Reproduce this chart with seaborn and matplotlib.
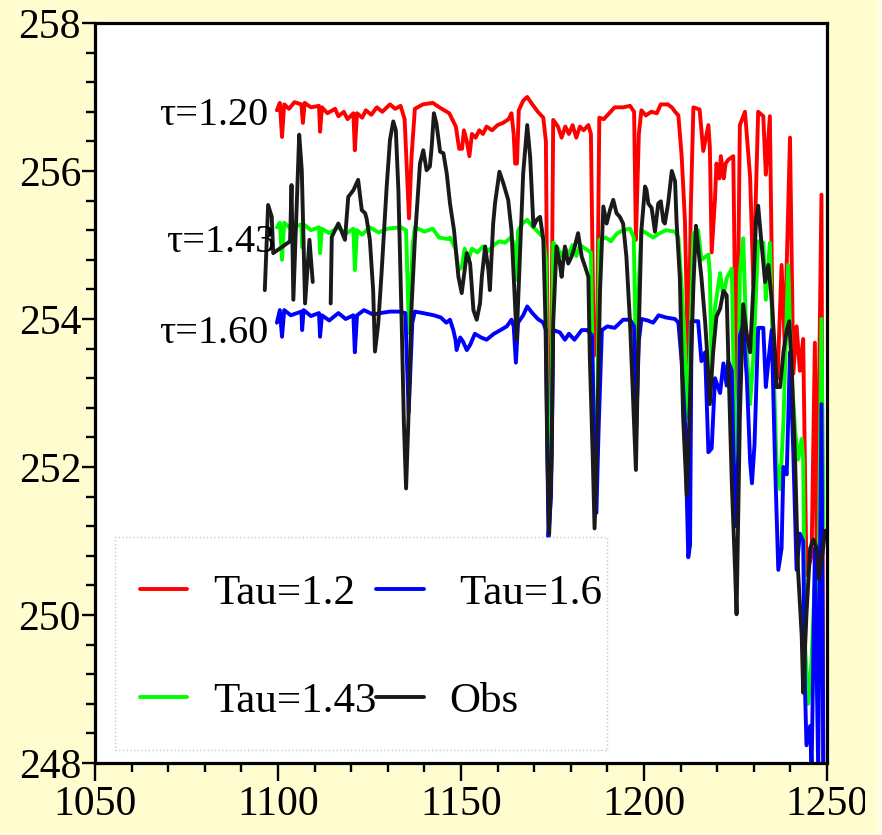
import numpy as np
import pandas as pd
import matplotlib
matplotlib.use("Agg")
import matplotlib.pyplot as plt
from matplotlib.ticker import MultipleLocator
from matplotlib.patches import Rectangle
import seaborn as sns

# ---------------- data ----------------
red_x = [1099.7, 1100.5, 1101.1, 1101.7, 1103.0, 1104.5, 1106.4, 1106.8, 1107.3, 1109.0,
         1111.2, 1111.5, 1112.0, 1113.5, 1115.6, 1116.5, 1118.0, 1119.0, 1120.6, 1121.0,
         1121.6, 1123.0, 1124.0, 1125.5, 1127.0, 1128.5, 1130.6, 1132.0, 1133.5, 1134.6,
         1135.8, 1136.5, 1137.4, 1139.6, 1142.3, 1144.1, 1146.8, 1148.6, 1149.5, 1150.3,
         1150.8, 1151.6, 1152.3, 1153.0, 1154.0, 1155.0, 1156.0, 1157.0, 1158.5, 1160.0,
         1161.5, 1163.0, 1163.8, 1164.4, 1164.8, 1165.3, 1165.8, 1167.0, 1168.1, 1169.5,
         1171.0, 1172.5, 1173.2, 1173.8, 1174.6, 1175.2, 1176.5, 1177.5, 1178.5, 1179.5,
         1180.5, 1181.5, 1182.5, 1183.5, 1184.8, 1185.5, 1186.3, 1187.2, 1187.8, 1189.0,
         1190.5, 1192.0, 1194.3, 1196.2, 1197.3, 1197.8, 1198.6, 1199.3, 1200.5, 1202.0,
         1203.5, 1204.6, 1206.5, 1207.6, 1208.5, 1209.4, 1210.3, 1211.2, 1212.1, 1212.8,
         1213.5, 1215.2, 1216.2, 1217.6, 1218.0, 1218.5, 1219.4, 1219.8, 1220.6, 1221.0,
         1221.8, 1222.3, 1223.0, 1224.4, 1225.3, 1226.2, 1227.6, 1229.0, 1229.9, 1231.2,
         1232.6, 1233.3, 1234.4, 1235.3, 1236.5, 1237.6, 1238.5, 1239.0, 1239.9, 1240.8,
         1241.7, 1242.6, 1243.5, 1244.4, 1245.8, 1246.7, 1247.2, 1248.5, 1249.0]
red_y = [256.82, 256.92, 256.46, 256.90, 256.84, 256.93, 256.90, 256.65, 256.92, 256.86,
         256.88, 256.53, 256.86, 256.78, 256.84, 256.74, 256.80, 256.70, 256.78, 256.28,
         256.78, 256.72, 256.82, 256.76, 256.86, 256.80, 256.90, 256.84, 256.88, 256.70,
         255.36, 256.20, 256.84, 256.90, 256.92, 256.86, 256.78, 256.60, 256.30, 256.30,
         256.55, 256.40, 256.20, 256.50, 256.45, 256.55, 256.50, 256.60, 256.55, 256.62,
         256.65, 256.70, 256.78, 256.50, 256.10, 256.10, 256.82, 256.95, 257.00, 256.90,
         256.80, 256.72, 256.40, 252.70, 252.90, 256.69, 256.60, 256.45, 256.60, 256.50,
         256.62, 256.45, 256.60, 256.55, 256.62, 256.50, 253.50, 253.80, 256.72, 256.70,
         256.78, 256.86, 256.86, 256.88, 256.80, 255.07, 256.50, 256.82, 256.75, 256.80,
         256.78, 256.90, 256.90, 256.86, 256.80, 256.75, 256.20, 255.32, 253.26, 255.50,
         256.86, 256.83, 256.27, 256.62, 256.32, 254.90, 255.62, 256.10, 255.90, 256.20,
         255.90, 256.10, 256.15, 256.20, 252.60, 256.62, 256.80, 255.92, 254.45, 256.80,
         256.74, 255.95, 256.74, 253.30, 253.20, 254.73, 253.60, 254.73, 256.45, 253.26,
         253.90, 253.30, 253.73, 250.54, 250.80, 253.68, 250.60, 255.68, 247.90]

green_x = [1099.7, 1100.5, 1101.1, 1101.7, 1103.5, 1106.4, 1106.6, 1107.0, 1109.0, 1111.2,
           1111.5, 1112.0, 1114.0, 1116.5, 1118.5, 1120.6, 1121.0, 1121.6, 1123.0, 1125.0,
           1127.5, 1130.0, 1133.5, 1135.0, 1135.8, 1136.8, 1137.4, 1140.0,
           1142.3, 1144.0, 1146.5, 1147.0, 1148.5, 1149.3, 1150.2, 1151.0, 1152.0, 1153.0,
           1154.5, 1156.0, 1157.5, 1159.0, 1160.5, 1162.0, 1163.8, 1164.4, 1165.0, 1165.6,
           1167.0, 1168.1, 1169.5, 1171.0, 1172.5, 1173.2, 1173.9, 1174.6, 1175.2, 1176.5,
           1177.5, 1178.5, 1179.5, 1180.5, 1181.5, 1182.5, 1184.0, 1185.5, 1186.3, 1187.2,
           1187.8, 1189.5, 1191.0, 1192.5, 1194.3, 1196.2, 1197.2, 1197.8, 1198.6, 1199.3,
           1201.0, 1202.5, 1204.0, 1206.0, 1208.5, 1209.4, 1210.3, 1211.2, 1211.7, 1212.6,
           1213.5, 1214.8, 1215.7, 1217.6, 1218.0, 1218.5, 1219.4, 1220.8, 1221.7, 1222.6,
           1224.0, 1224.4, 1225.3, 1226.2, 1227.1, 1228.1, 1229.0, 1229.9, 1231.2, 1232.6,
           1233.3, 1234.4, 1235.3, 1236.2, 1237.2, 1238.1, 1239.4, 1240.3, 1241.3, 1242.1,
           1243.1, 1243.5, 1244.0, 1244.9, 1245.8, 1246.7, 1247.6, 1248.5, 1249.0]
green_y = [255.24, 255.30, 254.80, 255.30, 255.22, 255.28, 254.97, 255.28, 255.20, 255.24,
           254.89, 255.22, 255.16, 255.24, 255.15, 255.22, 254.66, 255.20, 255.14, 255.24,
           255.17, 255.22, 255.24, 255.20, 253.81, 255.00, 255.24, 255.18,
           255.22, 255.10, 255.08, 255.10, 254.95, 254.66, 254.70, 254.95, 254.80, 254.95,
           254.90, 254.98, 254.92, 255.00, 255.05, 255.03, 255.11, 255.00, 254.53, 255.20,
           255.30, 255.34, 255.25, 255.18, 255.10, 254.80, 251.60, 252.20, 255.03, 254.95,
           254.85, 254.95, 254.88, 255.00, 254.85, 255.00, 254.95, 254.90, 252.40, 252.50,
           255.07, 255.10, 255.05, 255.15, 255.20, 255.22, 255.10, 253.49, 254.50, 255.20,
           255.15, 255.10, 255.15, 255.20, 255.18, 255.10, 254.45, 253.61, 252.67, 253.55,
           255.15, 255.20, 254.80, 254.87, 254.62, 253.32, 254.15, 254.62, 254.30, 254.55,
           254.68, 253.55, 251.20, 254.62, 255.09, 253.55, 252.85, 253.50, 255.05, 255.03,
           254.26, 255.03, 253.55, 252.08, 251.70, 252.60, 254.73, 253.26, 252.50, 252.10,
           252.38, 252.10, 249.60, 248.80, 249.40, 250.50, 250.10, 254.00, 251.20]

blue_x = [1099.7, 1100.5, 1101.1, 1101.7, 1103.5, 1106.4, 1106.6, 1107.0, 1109.0, 1111.2,
          1111.5, 1112.0, 1114.0, 1116.5, 1118.5, 1120.6, 1121.0, 1121.6, 1123.5, 1126.0,
          1128.0, 1130.6, 1133.0, 1134.8, 1135.7,
          1136.7, 1137.4, 1139.6, 1142.6, 1144.5, 1146.0, 1147.0, 1147.9, 1148.5, 1148.8,
          1149.8, 1150.5, 1151.6, 1152.5, 1153.8, 1155.5, 1157.0, 1159.0, 1160.8, 1162.5,
          1163.8, 1164.4, 1165.0, 1165.6, 1167.0, 1168.1, 1169.5, 1171.0, 1172.5, 1173.2,
          1173.9, 1174.6, 1175.2, 1177.0, 1178.4, 1179.5, 1181.0, 1183.0, 1184.5, 1185.8,
          1186.3, 1187.0, 1187.6, 1188.5, 1190.0, 1192.0, 1194.3, 1196.2, 1197.3, 1197.8,
          1198.6, 1199.3, 1201.0, 1202.5, 1204.0, 1206.0, 1208.5, 1209.4, 1210.3, 1211.2,
          1211.7, 1212.1, 1212.6, 1213.0, 1214.8, 1215.7, 1216.7, 1217.6, 1218.5, 1219.4,
          1220.8, 1221.7, 1222.6, 1223.0, 1224.0, 1224.9, 1225.8, 1226.2, 1227.1, 1228.1,
          1229.0, 1229.5, 1230.2, 1231.2, 1232.6, 1233.3, 1234.0, 1234.9, 1235.8, 1236.7,
          1237.6, 1238.1, 1239.0, 1239.9, 1240.8, 1241.7, 1242.6, 1243.5, 1244.0, 1244.4,
          1245.4, 1245.8, 1246.7, 1247.6, 1248.5, 1249.0]
blue_y = [253.95, 254.12, 253.76, 254.12, 254.05, 254.10, 253.85, 254.12, 254.04, 254.08,
          253.76, 254.05, 253.98, 254.08, 254.00, 254.05, 253.55, 254.05, 254.12, 254.06,
          254.08, 254.10, 254.10, 254.08, 252.73,
          253.95, 254.10, 254.08, 254.05, 254.02, 253.95, 253.99, 253.85, 253.72, 253.58,
          253.75, 253.70, 253.58, 253.65, 253.80, 253.75, 253.72, 253.80, 253.85, 253.90,
          253.99, 253.90, 253.41, 253.95, 254.05, 254.17, 254.08, 254.00, 253.95, 253.85,
          251.05, 251.60, 253.85, 253.82, 253.72, 253.80, 253.72, 253.85, 253.85, 253.78,
          252.60, 251.38, 252.50, 253.85, 253.90, 253.88, 253.99, 253.99, 253.90, 252.40,
          253.70, 254.00, 253.98, 253.95, 254.05, 254.02, 254.00, 253.95, 253.43, 252.61,
          251.61, 250.78, 250.95, 253.97, 253.97, 253.43, 253.55, 252.20, 252.25, 253.20,
          253.00, 253.40, 253.10, 253.43, 253.30, 251.20, 252.20, 253.78, 253.91, 253.20,
          252.08, 251.78, 252.30, 253.88, 253.88, 253.08, 253.43, 253.85, 252.08, 250.61,
          250.90, 252.00, 251.90, 253.55, 252.20, 250.61, 251.10, 251.00, 249.00, 248.24,
          248.50, 247.90, 250.90, 247.90, 252.85, 247.90]

# observations: two segments (gap between them)
obs_x_a = [1096.4, 1097.3, 1098.3, 1098.7, 1103.3, 1103.7, 1104.2, 1105.8, 1106.5, 1107.4,
           1108.6, 1109.5]
obs_y_a = [254.39, 255.54, 255.38, 254.89, 255.05, 255.81, 254.26, 256.49, 256.01, 254.21,
           255.07, 254.50]
obs_x_b = [1114.4, 1114.7, 1116.5, 1118.3, 1119.2, 1120.6, 1121.9, 1122.9, 1123.8, 1124.2,
           1125.1, 1126.0, 1126.5, 1127.4, 1128.3, 1129.7, 1130.6, 1131.5, 1132.2, 1132.9,
           1133.8, 1134.4, 1135.0, 1135.6, 1136.5, 1137.4, 1138.8, 1139.7, 1140.6, 1141.5,
           1142.0, 1142.6, 1143.3, 1144.3, 1145.2, 1146.1, 1147.0, 1148.1, 1149.3, 1150.2,
           1151.6, 1152.5, 1153.4, 1154.3, 1155.2, 1155.7, 1156.6, 1157.5, 1157.9, 1158.8,
           1159.3, 1160.5, 1161.6, 1162.9, 1163.8, 1164.8, 1165.2, 1166.1, 1167.0, 1168.1,
           1168.9, 1169.8, 1170.7, 1171.6, 1172.5, 1173.1, 1173.6, 1174.1, 1174.8, 1175.2,
           1176.1, 1177.0, 1177.5, 1178.4, 1179.3, 1180.2, 1181.1, 1182.0, 1183.0, 1183.9,
           1184.8, 1185.2, 1186.0, 1186.5, 1187.1, 1188.0, 1188.9, 1189.8, 1190.7, 1191.6,
           1192.5, 1193.4, 1194.3, 1195.2, 1196.2, 1197.1, 1197.8, 1198.4, 1199.3, 1200.3,
           1200.7, 1201.2, 1202.1, 1203.0, 1203.9, 1204.6, 1205.3, 1205.7, 1206.6, 1207.6,
           1208.5, 1208.9, 1209.8, 1210.7, 1211.7, 1212.6, 1213.5, 1214.2, 1214.8, 1215.7,
           1216.7, 1217.1, 1218.0, 1218.9, 1219.8, 1220.8, 1221.7, 1222.6, 1223.0, 1224.0,
           1224.9, 1225.3, 1225.8, 1226.2, 1227.1, 1228.1, 1229.0, 1229.9, 1230.6, 1231.2,
           1232.1, 1233.1, 1234.0, 1234.9, 1235.8, 1236.2, 1237.2, 1238.1, 1239.0, 1239.7,
           1240.3, 1241.3, 1242.1, 1243.1, 1243.5, 1244.4, 1245.4, 1246.3, 1247.2, 1247.8,
           1248.5, 1249.5]
obs_y_b = [254.21, 255.11, 255.29, 255.07, 255.65, 255.74, 255.88, 255.47, 255.43, 255.36,
           255.07, 254.39, 253.56, 253.94, 254.62, 255.79, 256.42, 256.67, 256.55, 255.74,
           253.94, 252.59, 251.71, 252.59, 254.17, 255.07, 256.10, 256.28, 256.01, 256.06,
           256.33, 256.78, 256.64, 256.26, 256.24, 255.97, 255.56, 255.20, 254.57, 254.35,
           254.89, 254.75, 254.12, 253.99, 254.21, 254.57, 254.98, 254.66, 254.39, 255.29,
           255.56, 255.99, 255.83, 255.61, 255.20, 254.17, 253.72, 254.84, 255.97, 256.62,
           256.19, 255.25, 255.34, 255.38, 255.07, 253.94, 252.14, 251.10, 252.14, 253.94,
           254.98, 254.75, 254.57, 254.98, 254.75, 254.84, 254.98, 255.16, 254.84, 254.71,
           254.57, 253.49, 252.14, 251.17, 252.14, 254.39, 255.52, 255.29, 255.47, 255.61,
           255.43, 255.38, 255.29, 254.84, 253.94, 252.81, 251.96, 253.49, 255.20, 255.79,
           255.74, 255.56, 255.50, 255.18, 255.56, 255.59, 255.32, 255.29, 255.56, 256.00,
           255.86, 255.32, 254.56, 252.67, 251.61, 252.96, 254.44, 255.26, 254.97, 254.56,
           253.97, 253.67, 252.85, 253.55, 254.03, 254.14, 254.38, 254.32, 253.55, 251.78,
           250.60, 250.01, 251.49, 252.67, 254.20, 253.79, 253.55, 254.44, 255.32, 255.53,
           255.03, 254.50, 254.73, 254.26, 253.55, 253.08, 253.08, 253.55, 253.85, 253.97,
           253.44, 252.08, 250.60, 249.72, 248.95, 250.01, 250.90, 251.02, 250.90, 250.49,
           250.72, 251.14]

legend_labels = ["Tau=1.2", "Tau=1.43", " Tau=1.6", "Obs"]
annot_texts = ["\u03c4=1.20", "\u03c4=1.43", "\u03c4=1.60"]
annot_x = [1097.2, 1099.2, 1097.3]
annot_y = [256.62, 254.91, 253.68]
x_ticks = [1050, 1100, 1150, 1200, 1250]
y_ticks = [248, 250, 252, 254, 256, 258]

# ---------------- style ----------------
sns.set_style("ticks")
plt.rcParams["font.family"] = ["Liberation Serif", "DejaVu Serif"]
plt.rcParams["text.color"] = "black"
plt.rcParams["axes.labelcolor"] = "black"
plt.rcParams["xtick.color"] = "black"
plt.rcParams["ytick.color"] = "black"

BG = "#FFFDCF"
fig = plt.figure(figsize=(8.82, 8.35), dpi=100, facecolor=BG)
ax = fig.add_axes([0.1077, 0.0862, 0.8299, 0.8863])
ax.set_facecolor("white")

lw = 2.8
series = [(red_x, red_y, "#FF0000"), (green_x, green_y, "#00FF00"), (blue_x, blue_y, "#0000FF")]
handles = []
for xs, ys, col in series:
    sns.lineplot(x=xs, y=ys, color=col, linewidth=lw, sort=False, estimator=None, ax=ax)
    handles.append(ax.lines[-1])
sns.lineplot(x=obs_x_a, y=obs_y_a, color="#1A1A1A", linewidth=lw, sort=False, estimator=None, ax=ax)
sns.lineplot(x=obs_x_b, y=obs_y_b, color="#1A1A1A", linewidth=lw, sort=False, estimator=None, ax=ax)
handles.append(ax.lines[-1])

ax.set_xlim(1050, 1250)
ax.set_ylim(248, 258)
ax.set_xticks(x_ticks)
ax.set_yticks(y_ticks)
ax.xaxis.set_minor_locator(MultipleLocator(10))
ax.yaxis.set_minor_locator(MultipleLocator(0.4))
ax.set_xlabel("")
ax.set_ylabel("")

for sp in ax.spines.values():
    sp.set_visible(True)
    sp.set_linewidth(2.3)
    sp.set_color("black")

ax.tick_params(axis="both", which="both", direction="out", width=1.7, colors="black",
               labelcolor="black", labelsize=30, top=False, right=False)
ax.tick_params(axis="y", which="major", length=9.5, pad=0.5)
ax.tick_params(axis="x", which="major", length=13, pad=3)
ax.tick_params(axis="both", which="minor", length=6.5)

for t, xx, yy in zip(annot_texts, annot_x, annot_y):
    ax.text(xx, yy, t, ha="right", va="baseline", fontsize=29, color="black")

# legend box (dotted light-grey frame, white fill)
ax.add_patch(Rectangle((0.027, 0.0176), 0.672, 0.2874, transform=ax.transAxes,
                       facecolor="white", edgecolor="#C8C8C8", linestyle=":",
                       linewidth=1.0, zorder=4))
leg = ax.legend(handles, legend_labels, ncol=2, loc="upper left",
                bbox_to_anchor=(0.019, 0.298), borderaxespad=0, fontsize=31,
                frameon=False, borderpad=0.72, labelspacing=1.6,
                handlelength=1.1, handletextpad=0.6, columnspacing=0.0)
leg.set_zorder(6)
for txt in leg.get_texts():
    txt.set_color("black")
for h in leg.legend_handles:
    h.set_linewidth(lw)

# right border artefact of the reference (clipped last tick label)
fig.add_artist(Rectangle((865 / 882, 0), 12 / 882, 1, transform=fig.transFigure,
                         facecolor=BG, edgecolor="none", zorder=50))
fig.add_artist(Rectangle((877 / 882, 0), 5 / 882, 1, transform=fig.transFigure,
                         facecolor="#FFFDE6", edgecolor="none", zorder=51))

fig.savefig("out.png", dpi=100, facecolor=BG)
